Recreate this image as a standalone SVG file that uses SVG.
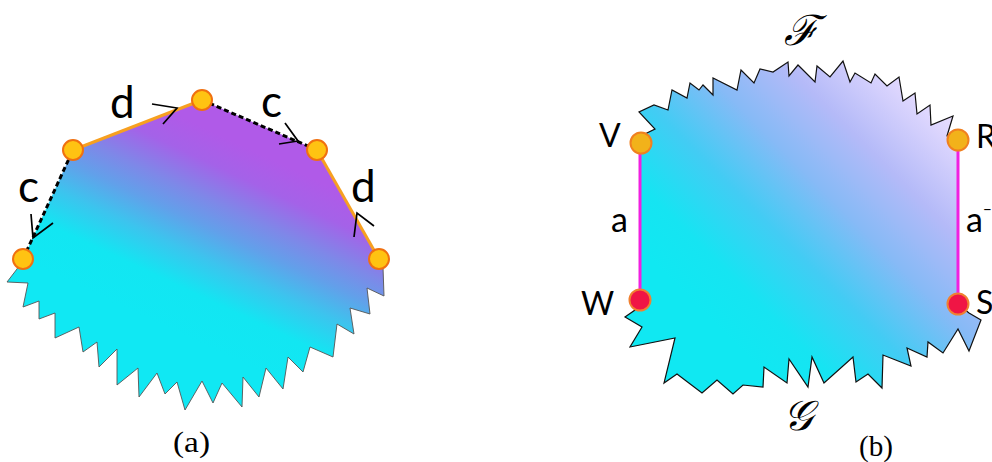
<svg xmlns="http://www.w3.org/2000/svg" width="992" height="462" viewBox="0 0 992 462">
<defs>
<linearGradient id="gA" gradientUnits="userSpaceOnUse" x1="183" y1="336" x2="267" y2="157">
<stop offset="0" stop-color="#10E8F3"/>
<stop offset="0.22" stop-color="#12E6F2"/>
<stop offset="0.4" stop-color="#3CC4EE"/>
<stop offset="0.55" stop-color="#62A0EA"/>
<stop offset="0.68" stop-color="#7E88E8"/>
<stop offset="0.85" stop-color="#A462E8"/>
<stop offset="1" stop-color="#B05AE8"/>
</linearGradient>
<linearGradient id="gB" gradientUnits="userSpaceOnUse" x1="720" y1="330" x2="940" y2="110">
<stop offset="0" stop-color="#10E8F2"/>
<stop offset="0.15" stop-color="#16E4F2"/>
<stop offset="0.35" stop-color="#42CCF4"/>
<stop offset="0.55" stop-color="#86BAF6"/>
<stop offset="0.75" stop-color="#B4BAF8"/>
<stop offset="1" stop-color="#E6DCFF"/>
</linearGradient>
<style>
.lbl{font-family:Lato,"DejaVu Sans",sans-serif;fill:#000}
.cap{font-family:"Liberation Serif",serif;font-size:29px;fill:#000}
.cal{font-family:"DejaVu Serif","Liberation Serif",serif;font-style:italic;fill:#000}
.jagA{fill:none;stroke:#555;stroke-width:0.9;stroke-linejoin:miter}
.jagB{fill:none;stroke:#111;stroke-width:1.2;stroke-linejoin:miter}
.dE{stroke:#F7A020;stroke-width:3;fill:none}
.cE{stroke:#000;stroke-width:3;stroke-dasharray:5 3;fill:none}
.mE{stroke:#F020E0;stroke-width:3;fill:none}
.chev{stroke:#000;stroke-width:1.7;fill:none}
.ny{fill:#FFC312;stroke:#F07010;stroke-width:2}
.no{fill:#F2B21A;stroke:#F08020;stroke-width:2}
.nr{fill:#F01545;stroke:#F08030;stroke-width:2}
</style>
</defs>

<!-- Panel (a) region -->
<g id="regionA">
<polygon fill="url(#gA)" points="23,259 73,150 202,100 317,150 379,259 383,267 384,296 367,288 370,314 350,308 354,334 337,324 333,357 310,347 303,372 288,357 283,389 266,368 259,397 243,377 242,407 222,383 213,403 202,381 185,410 177,382 165,394 157,373 139,397 138,368 117,385 117,349 99,367 97,342 83,352 79,327 55,338 55,313 39,319 39,301 23,307 28,283 7,282 17,269"/>
<polyline class="jagA" points="379,259 383,267 384,296 367,288 370,314 350,308 354,334 337,324 333,357 310,347 303,372 288,357 283,389 266,368 259,397 243,377 242,407 222,383 213,403 202,381 185,410 177,382 165,394 157,373 139,397 138,368 117,385 117,349 99,367 97,342 83,352 79,327 55,338 55,313 39,319 39,301 23,307 28,283 7,282 17,269 23,259"/>
</g>

<!-- Panel (b) region -->
<g id="regionB">
<polygon fill="url(#gB)" points="641,143 645,134 655,129 639,112 654,105 668,110 672,90 687,98 690,83 699,90 703,85 713,95 713,78 737,90 741,70 754,83 760,69 773,72 788,62 789,76 798,65 815,82 817,66 830,77 843,61 850,82 855,73 871,83 875,74 887,86 899,77 903,101 915,93 917,114 930,105 931,125 953,116 947,136 958,140 958,304 969,313 981,320 969,351 958,329 943,353 928,342 927,357 907,348 911,366 883,355 882,388 868,374 856,382 853,357 824,383 812,357 808,387 789,359 787,383 764,367 763,387 743,385 733,394 717,380 702,393 677,374 664,383 675,338 630,347 642,327 625,317 635,310 640,300"/>
<polyline class="jagB" points="641,143 645,134 655,129 639,112 654,105 668,110 672,90 687,98 690,83 699,90 703,85 713,95 713,78 737,90 741,70 754,83 760,69 773,72 788,62 789,76 798,65 815,82 817,66 830,77 843,61 850,82 855,73 871,83 875,74 887,86 899,77 903,101 915,93 917,114 930,105 931,125 953,116 947,136 958,140"/>
<polyline class="jagB" points="958,304 969,313 981,320 969,351 958,329 943,353 928,342 927,357 907,348 911,366 883,355 882,388 868,374 856,382 853,357 824,383 812,357 808,387 789,359 787,383 764,367 763,387 743,385 733,394 717,380 702,393 677,374 664,383 675,338 630,347 642,327 625,317 635,310 640,300"/>
</g>

<g id="connectors">
<line class="cE" x1="23" y1="259" x2="73" y2="150"/>
<line class="dE" x1="73" y1="150" x2="202" y2="100"/>
<line class="cE" x1="202" y1="100" x2="317" y2="150"/>
<line class="dE" x1="317" y1="150" x2="379" y2="259"/>
<polyline class="chev" points="31,214 33,238 53,223"/>
<polyline class="chev" points="152,104 177,108 163,124"/>
<polyline class="chev" points="285,123 298,141 279,144"/>
<polyline class="chev" points="354,237 357,213 374,226"/>
<line class="mE" x1="640" y1="143" x2="640" y2="300"/>
<line class="mE" x1="958" y1="140" x2="958" y2="304"/>
</g>

<g id="a1"><circle class="ny" cx="23" cy="259" r="10"/></g>
<g id="a2"><circle class="ny" cx="73" cy="150" r="10"/></g>
<g id="a3"><circle class="ny" cx="202" cy="100" r="10"/></g>
<g id="a4"><circle class="ny" cx="317" cy="150" r="10"/></g>
<g id="a5"><circle class="ny" cx="379" cy="259" r="10"/></g>

<g id="V"><circle class="no" cx="641" cy="143" r="10.5"/></g>
<g id="R"><circle class="no" cx="958" cy="140" r="10.5"/></g>
<g id="W"><circle class="nr" cx="640" cy="300" r="10.5"/></g>
<g id="S"><circle class="nr" cx="958" cy="304" r="10.5"/></g>

<g id="labels">
<text class="lbl" x="110" y="118" font-size="44">d</text>
<text class="lbl" x="261" y="117" font-size="44">c</text>
<text class="lbl" x="18" y="202" font-size="44">c</text>
<text class="lbl" x="351" y="202" font-size="44">d</text>
<text class="lbl" x="599" y="147" font-size="32">V</text>
<text class="lbl" x="611" y="232" font-size="34">a</text>
<text class="lbl" x="581" y="315" font-size="32">W</text>
<text class="lbl" x="976" y="148" font-size="32">R</text>
<text class="lbl" x="976" y="314" font-size="32">S</text>
<text class="lbl" x="966" y="232" font-size="34">a<tspan font-size="15" dy="-17">−1</tspan></text>
<text class="cal" x="784" y="45" font-size="42">ℱ</text>
<text class="cal" x="783" y="430" font-size="42">𝒢</text>
<text class="cap" x="173" y="452" textLength="37" lengthAdjust="spacingAndGlyphs">(a)</text>
<text class="cap" x="859" y="456" textLength="34" lengthAdjust="spacingAndGlyphs">(b)</text>
</g>
</svg>
